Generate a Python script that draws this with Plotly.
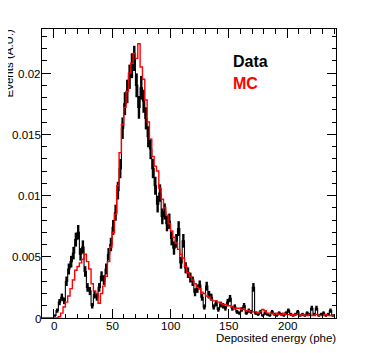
import numpy as np
import plotly.graph_objects as go

# ---- histogram binning (phe) ----
BIN_LO = -10.0
BIN_WIDTH = 2.0
N_EVENTS = 20000  # used for statistical error bars of data

data_vals = [
    0, 0, 0, 0, 0, 0.0002, 0.0006, 0.0013, 0.0017, 0.0014,
    0.0030, 0.0040, 0.0046, 0.0053, 0.0064, 0.0070, 0.0052, 0.0058, 0.0038, 0.0025,
    0.0022, 0.0010, 0.0019, 0.0017, 0.0025, 0.0034, 0.0031, 0.0040, 0.0052, 0.0060,
    0.0074, 0.0086, 0.0104, 0.0122, 0.0155, 0.0175, 0.0185, 0.0197, 0.0206, 0.0212,
    0.0190, 0.0172, 0.0188, 0.0177, 0.0163, 0.0148, 0.0138, 0.0122, 0.0108, 0.0093,
    0.0102, 0.0083, 0.0087, 0.0077, 0.0079, 0.0065, 0.0057, 0.0063, 0.0073, 0.0045,
    0.0063, 0.0041, 0.0037, 0.0033, 0.0030, 0.0021, 0.0024, 0.0027, 0.0017, 0.0009,
    0.0026, 0.0019, 0.0017, 0.0009, 0.0012, 0.0007, 0.0011, 0.0010, 0.0008, 0.0013,
    0.0016, 0.0008, 0.0009, 0.0005, 0.0004, 0.0007, 0.0010, 0.0004, 0.0006, 0.0005,
    0.0025, 0.0004, 0.0003, 0.0005, 0.0002, 0.0004, 0.0003, 0.0002, 0.0005, 0.0003,
    0.0002, 0.0004, 0.0003, 0.0002, 0.0004, 0.0006, 0.0003, 0.0002, 0.0003, 0.0005,
    0.0002, 0.0003, 0.0002, 0.0004, 0.0003, 0.0008, 0.0003, 0.0008, 0.0002, 0.0003,
    0.0004, 0.0002, 0.0003, 0.0006, 0.0002,
]

mc_vals = [
    0, 0, 0, 0, 0, 0, 0, 0.0001, 0.0004, 0.0009,
    0.0013, 0.0018, 0.0024, 0.0031, 0.0039, 0.0042, 0.0045, 0.0048, 0.0052, 0.0046,
    0.0040, 0.0028, 0.0022, 0.0020, 0.0012, 0.0020, 0.0026, 0.0034, 0.0046, 0.0058,
    0.0070, 0.0085, 0.0108, 0.0135, 0.0158, 0.0172, 0.0185, 0.0200, 0.0208, 0.0216,
    0.0212, 0.0224, 0.0205, 0.0195, 0.0178, 0.0160, 0.0146, 0.0132, 0.0124, 0.0120,
    0.0106, 0.0097, 0.0090, 0.0084, 0.0077, 0.0071, 0.0066, 0.0061, 0.0056, 0.0052,
    0.0049, 0.0042, 0.0037, 0.0034, 0.0031, 0.0028, 0.0025, 0.0024, 0.0021, 0.0020,
    0.0018, 0.0017, 0.0015, 0.0014, 0.0014, 0.0013, 0.0012, 0.0011, 0.0011, 0.0010,
    0.0010, 0.0009, 0.0008, 0.0008, 0.0008, 0.0007, 0.0007, 0.0006, 0.0006, 0.0005,
    0.0005, 0.0005, 0.0004, 0.0005, 0.0007, 0.0006, 0.0004, 0.0004, 0.0004, 0.0003,
    0.0004, 0.0003, 0.0003, 0.0004, 0.0003, 0.0003, 0.0003, 0.0002, 0.0003, 0.0003,
    0.0002, 0.0003, 0.0002, 0.0002, 0.0003, 0.0002, 0.0002, 0.0003, 0.0002, 0.0002,
    0.0002, 0.0003, 0.0002, 0.0002, 0.0002,
]

x_tickvals = [0, 50, 100, 150, 200]
x_ticktext = ["0", "50", "100", "150", "200"]
y_tickvals = [0, 0.005, 0.01, 0.015, 0.02]
y_ticktext = ["0", "0.005", "0.01", "0.015", "0.02"]

data_arr = np.array(data_vals)
mc_arr = np.array(mc_vals)
n_bins = len(data_arr)
edges = BIN_LO + BIN_WIDTH * np.arange(n_bins + 1)
centers = 0.5 * (edges[:-1] + edges[1:])
data_err = np.sqrt(data_arr / N_EVENTS)

FONT = "Liberation Sans, Arial, Helvetica, sans-serif"

fig = go.Figure()

# Data error bars (thick vertical)
fig.add_trace(go.Scatter(
    x=centers, y=data_arr, mode="markers",
    marker=dict(size=0.1, color="black"),
    error_y=dict(type="data", array=data_err, thickness=2.4, width=0, color="black"),
    showlegend=False, hoverinfo="skip",
))
# Data histogram outline
fig.add_trace(go.Scatter(
    x=edges, y=np.append(data_arr, data_arr[-1]), mode="lines",
    line=dict(color="black", width=1.1, shape="hv"),
    showlegend=False,
))
# MC histogram outline
fig.add_trace(go.Scatter(
    x=edges[: len(mc_arr) + 1], y=np.append(mc_arr, mc_arr[-1]), mode="lines",
    line=dict(color="#ff0000", width=1.4, shape="hv"),
    showlegend=False,
))

axis_common = dict(
    showline=True, linecolor="black", linewidth=1, mirror="allticks",
    ticks="inside", tickcolor="black", tickwidth=1,
    showgrid=False, zeroline=False, automargin=False, showticklabels=False,
)

fig.update_xaxes(
    range=[-10, 241.7], tickvals=x_tickvals, ticklen=9,
    minor=dict(ticks="inside", dtick=10, tick0=0, ticklen=4.5, tickcolor="black", showgrid=False),
    **axis_common,
)
fig.update_yaxes(
    range=[0, 0.0236], tickvals=y_tickvals, ticklen=9,
    minor=dict(ticks="inside", dtick=0.001, tick0=0, ticklen=4.5, tickcolor="black", showgrid=False),
    **axis_common,
)

# tick labels placed close to the axes (ROOT style)
for v, t in zip(x_tickvals, x_ticktext):
    fig.add_annotation(
        text=t, xref="x", yref="paper", x=v, y=-0.026,
        xanchor="center", yanchor="middle", showarrow=False, borderpad=0, borderwidth=0,
        font=dict(family=FONT, size=11.6, color="black"),
    )
for v, t in zip(y_tickvals, y_ticktext):
    fig.add_annotation(
        text=t, xref="paper", yref="y", x=-0.003, y=v,
        xanchor="right", yanchor="middle", showarrow=False, borderpad=0, borderwidth=0,
        font=dict(family=FONT, size=11.6, color="black"),
    )

# plot area spans 294 x 289 px
fig.add_annotation(
    text="Events (A.U.)", textangle=-90, xref="paper", yref="paper",
    x=-0.111, y=0.882, xanchor="center", yanchor="middle", showarrow=False,
    borderpad=0, borderwidth=0,
    font=dict(family=FONT, size=11.5, color="black"),
)
fig.add_annotation(
    text="Deposited energy (phe)", xref="paper", yref="paper",
    x=1.0, y=-0.068, xanchor="right", yanchor="middle", showarrow=False,
    borderpad=0, borderwidth=0,
    font=dict(family=FONT, size=11.5, color="black"),
)
fig.add_annotation(
    text="<b>Data</b>", xref="paper", yref="paper",
    x=0.650, y=0.886, xanchor="left", yanchor="middle", showarrow=False,
    borderpad=0, borderwidth=0,
    font=dict(family=FONT, size=16, color="black"),
)
fig.add_annotation(
    text="<b>MC</b>", xref="paper", yref="paper",
    x=0.650, y=0.810, xanchor="left", yanchor="middle", showarrow=False,
    borderpad=0, borderwidth=0,
    font=dict(family=FONT, size=16, color="#ff0000"),
)

# page body has an 8px margin, so the figure is sized to fit the window
fig.update_layout(
    template="none",
    width=366, height=345,
    margin=dict(l=34, r=38, t=21, b=35, pad=0),
    paper_bgcolor="white", plot_bgcolor="white",
    showlegend=False,
)

fig.write_html("out.html")
